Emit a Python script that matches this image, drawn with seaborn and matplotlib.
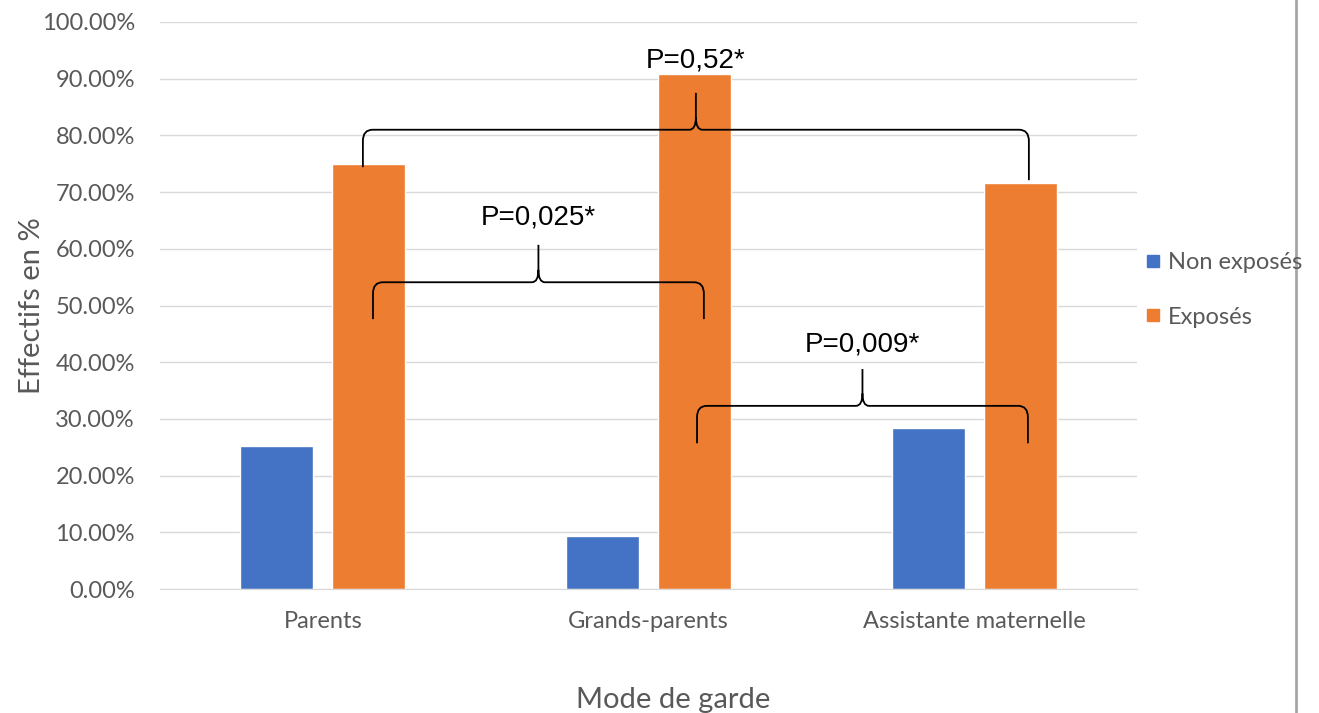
import matplotlib
matplotlib.use("Agg")
import matplotlib.pyplot as plt
import seaborn as sns
import pandas as pd
from matplotlib.path import Path
from matplotlib.patches import PathPatch
from matplotlib.lines import Line2D
from matplotlib.ticker import FuncFormatter

# Data (percent)
categories = ["Parents", "Grands-parents", "Assistante maternelle"]
groups = ["Non exposés", "Exposés"]
non_exposes = [25.2, 9.3, 28.4]
exposes = [75.0, 90.8, 71.6]
p_labels = ["P=0,52*", "P=0,025*", "P=0,009*"]
colors = ["#4472C4", "#ED7D31"]

df = pd.DataFrame({
    "Mode de garde": categories * 2,
    "Groupe": [groups[0]] * 3 + [groups[1]] * 3,
    "Effectif": non_exposes + exposes,
})

sns.set_style("white")
plt.rcParams["font.family"] = ["Lato", "DejaVu Sans"]

fig = plt.figure(figsize=(13.19, 7.13), dpi=100)
ax = fig.add_axes([160 / 1319, 1 - 589 / 713, 977 / 1319, 567 / 713])

sns.barplot(data=df, x="Mode de garde", y="Effectif", hue="Groupe",
            hue_order=groups, palette=colors, width=0.565, gap=0.21,
            saturation=1, ax=ax, legend=False)

ax.set_ylim(0, 100)
ax.set_xlim(-0.5, 2.5)
ax.set_yticks(range(0, 101, 10))
ax.yaxis.set_major_formatter(FuncFormatter(lambda v, _: f"{v:.2f}%"))
ax.grid(axis="y", color="#D9D9D9", lw=1)
ax.set_axisbelow(True)
for s in ["left", "right", "top"]:
    ax.spines[s].set_visible(False)
ax.spines["bottom"].set_color("#D9D9D9")
ax.tick_params(axis="both", length=0, colors="#595959", labelsize=17)
ax.tick_params(axis="x", pad=16)
ax.tick_params(axis="y", pad=18)

ax.set_xlabel("Mode de garde", fontsize=21, color="#595959")
ax.set_ylabel("Effectifs en %", fontsize=21, color="#595959")
ax.xaxis.set_label_coords(0.525, -0.172)
ax.yaxis.set_label_coords(-0.118, 0.5)

# curly braces with p-values: (x left, x right, y left end, y right end, y bar, y tip, y text)
braces = [
    (0.123, 2.168, 74.4, 72.1, 81.0, 87.5, 93.2),
    (0.154, 1.170, 47.6, 47.6, 54.1, 60.7, 65.5),
    (1.149, 2.165, 25.7, 25.7, 32.3, 38.8, 43.1),
]


def brace(x0, x1, yb0, yb1, yh, yt, rx=0.03, ry=2.0, tx=0.02, ty=2.2):
    xm = (x0 + x1) / 2
    verts = [
        (x0, yb0), (x0, yh - ry), (x0, yh), (x0 + rx, yh),
        (xm - tx, yh), (xm, yh), (xm, yh + ty), (xm, yt),
        (x1, yb1), (x1, yh - ry), (x1, yh), (x1 - rx, yh),
        (xm + tx, yh), (xm, yh), (xm, yh + ty),
    ]
    codes = [
        Path.MOVETO, Path.LINETO, Path.CURVE3, Path.CURVE3,
        Path.LINETO, Path.CURVE3, Path.CURVE3, Path.LINETO,
        Path.MOVETO, Path.LINETO, Path.CURVE3, Path.CURVE3,
        Path.LINETO, Path.CURVE3, Path.CURVE3,
    ]
    return PathPatch(Path(verts, codes), fill=False, lw=1.3, color="black",
                     zorder=5)


for (x0, x1, yb0, yb1, yh, yt, ytxt), lab in zip(braces, p_labels):
    ax.add_patch(brace(x0, x1, yb0, yb1, yh, yt))
    ax.text((x0 + x1) / 2, ytxt, lab, ha="center", va="center",
            fontsize=20, family="Liberation Sans", color="black", zorder=6)

handles = [Line2D([], [], marker="s", ls="", color=c, markersize=8)
           for c in colors]
fig.legend(handles, groups, loc="center left",
           bbox_to_anchor=(1125 / 1319, 1 - 290 / 713), frameon=False,
           fontsize=17, labelcolor="#595959", handlelength=0.6,
           handletextpad=0.3, labelspacing=1.4)

fig.add_artist(Line2D([1296 / 1319] * 2, [0, 1], color="#A6A6A6", lw=2))

fig.savefig("out.png", dpi=100)
